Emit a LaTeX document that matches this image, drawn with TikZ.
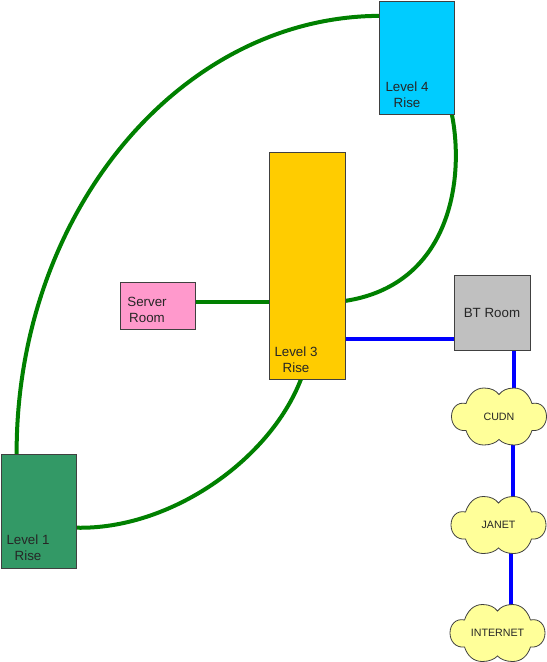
\documentclass[tikz,border=0pt]{standalone}
\usepackage{fontspec}
\setmainfont{Liberation Sans}
\usepackage{xcolor}
\definecolor{riseblue}{RGB}{0,204,255}
\definecolor{riseyellow}{RGB}{255,204,0}
\definecolor{risegreen}{RGB}{51,153,102}
\definecolor{roompink}{RGB}{255,153,204}
\definecolor{roomgray}{RGB}{192,192,192}
\definecolor{cloudyellow}{RGB}{255,255,153}
\definecolor{linkgreen}{RGB}{0,128,0}
\definecolor{linkblue}{RGB}{0,0,255}
\usetikzlibrary{backgrounds}

\tikzset{
  roombox/.style={draw=black!75, line width=0.75pt, inner sep=0pt, outer sep=0pt},
  roomtext/.style={font=\fontsize{10}{12}\selectfont, align=center, text=black!85},
  cloudline/.style={draw=black!75, line width=0.6pt, fill=cloudyellow},
  cloudtext/.style={font=\fontsize{8}{10}\selectfont, text=black!85},
  greenlink/.style={line width=3pt, linkgreen},
  bluelink/.style={line width=3pt, linkblue}
}

% outline with six puffs, then the named label on top
\newcommand{\netcloud}[3]{
  \draw[cloudline, shift={(#2)}] (-33,-13)
    .. controls (-42,-15) and (-47.5,-8) .. (-47.5,0)
    .. controls (-47.5,8) and (-42,15) .. (-33,14)
    .. controls (-30,23) and (-24,28.5) .. (-15,28.5)
    .. controls (-8,28.5) and (-3,26) .. (0,23)
    .. controls (3,26) and (8,28.5) .. (15,28.5)
    .. controls (24,28.5) and (30,23) .. (33,14)
    .. controls (42,15) and (47.5,8) .. (47.5,0)
    .. controls (47.5,-8) and (42,-15) .. (33,-13)
    .. controls (30,-22) and (24,-28.5) .. (15,-28.5)
    .. controls (8,-28.5) and (3,-26) .. (0,-22)
    .. controls (-3,-26) and (-8,-28.5) .. (-15,-28.5)
    .. controls (-24,-28.5) and (-30,-22) .. (-33,-13) -- cycle;
  \node[cloudtext] (#1) at (#2) {#3};
}

\begin{document}
\begin{tikzpicture}[x=0.75pt, y=-0.75pt]
  \useasboundingbox (0,0) rectangle (547,662);

  % Rise boxes
  \node[roombox, fill=riseblue, minimum width=56.25pt, minimum height=84.75pt] (levelfour) at (416.5,57.5) {};
  \node[roombox, fill=riseyellow, minimum width=57pt, minimum height=170.25pt] (levelthree) at (307,265.5) {};
  \node[roombox, fill=risegreen, minimum width=56.25pt, minimum height=85.5pt] (levelone) at (38.5,511) {};

  % Rooms
  \node[roombox, fill=roompink, minimum width=56.25pt, minimum height=35.25pt] (serverroom) at (157.5,305.5) {};
  \node[roombox, roomtext, fill=roomgray, minimum width=57pt, minimum height=56.25pt] (btroom) at (492,312.5) {BT Room};

  % Labels
  \node[roomtext] (levelfourtext) at (407,95) {Level 4\\Rise};
  \node[roomtext] (levelthreetext) at (296,359.5) {Level 3\\Rise};
  \node[roomtext] (levelonetext) at (28,548) {Level 1\\Rise};
  \node[roomtext] (servertext) at (147,310) {Server\\Room};

  % Clouds
  \netcloud{cudn}{499,416.5}{CUDN}
  \netcloud{janet}{498.5,525}{JANET}
  \netcloud{internet}{497.5,633}{INTERNET}

  \begin{scope}[on background layer]
    % Green rise links
    \draw[greenlink] (levelone.111.5) .. controls (16,214) and (179,17) .. (levelfour.132.8);
    \draw[greenlink] (levelfour.-58.6) .. controls (465,180) and (450,285) .. (levelthree.-43);
    \draw[greenlink] (levelthree.-93.5) .. controls (270,460) and (170,530) .. (levelone.-24.4);
    \draw[greenlink] (serverroom.6) -- (serverroom.6 -| levelthree.west);

    % Blue links
    \draw[bluelink] (btroom.215.4) -- (btroom.215.4 -| levelthree.east);
    \draw[bluelink] (btroom.-60.8) -- (btroom.-60.8 |- cudn.center);
    \draw[bluelink] (cudn.center) ++(13.5,0) -- ++(0,108);
    \draw[bluelink] (janet.center) ++(12.5,0) -- ++(0,108);
  \end{scope}
\end{tikzpicture}
\end{document}
